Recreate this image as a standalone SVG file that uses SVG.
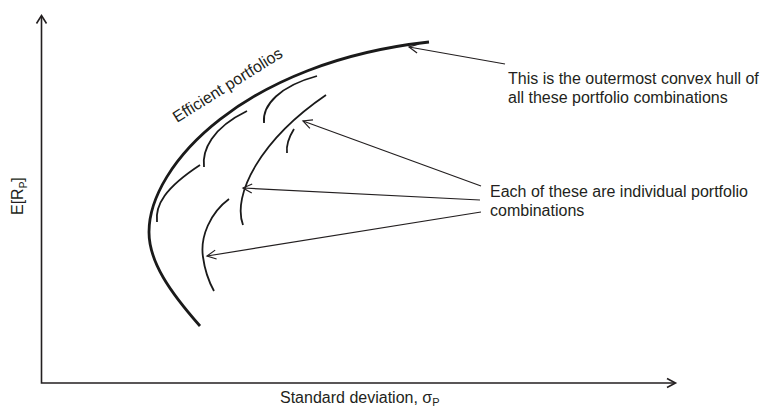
<svg xmlns="http://www.w3.org/2000/svg" width="761" height="406" viewBox="0 0 761 406">
<style>
  text { font-family: "Liberation Sans", Arial, sans-serif; font-size: 16px; fill: #231f20; }
  .axis { fill: none; stroke: #231f20; stroke-width: 1.6; }
  .hull { fill: none; stroke: #1a1a1a; stroke-width: 2.8; stroke-linecap: butt; }
  .combo { fill: none; stroke: #1a1a1a; stroke-width: 1.8; }
  .conn { fill: none; stroke: #231f20; stroke-width: 1.2; marker-end: url(#open); }
</style>
<defs>
  <marker id="open" markerUnits="userSpaceOnUse" markerWidth="14" markerHeight="14" refX="11" refY="6" orient="auto">
    <path d="M2,1.5 L11,6 L2,10.5" fill="none" stroke="#231f20" stroke-width="1.2"/>
  </marker>
</defs>
<rect width="761" height="406" fill="#ffffff"/>
<g id="axes">
  <path class="axis" d="M41.5,16 L41.5,383 L675,383"/>
  <path class="axis" d="M36.5,23.5 L41.5,15.5 L46.5,23.5"/>
  <path class="axis" d="M667,378.5 L675.5,383 L667,387.5"/>
</g>
<g id="efficient-frontier">
  <path class="hull" d="M200,326 C170,292 149,262 149,232 C149,165 245,62 429,42"/>
</g>
<g id="portfolio-combinations">
  <path class="combo" d="M157,222 C155,205 165,188 200,165"/>
  <path class="combo" d="M204,167 C202,150 212,128 247,111"/>
  <path class="combo" d="M264,123 C262,105 280,86 317,76"/>
  <path class="combo" d="M243,225 C232,195 260,140 326,95"/>
  <path class="combo" d="M294,129 C289,137 286,145 287,153"/>
  <path class="combo" d="M229,199 C210,213 200,237 203,257 C205,272 209,282 214,291"/>
</g>
<g id="connectors">
  <path class="conn" d="M505,64 L409,47"/>
  <path class="conn" d="M481,186 L303,121"/>
  <path class="conn" d="M480,200 L243,188"/>
  <path class="conn" d="M481,212 L207,256"/>
</g>
<g id="label-hull">
  <text x="508" y="84">This is the outermost convex hull of</text>
  <text x="508" y="103">all these portfolio combinations</text>
</g>
<g id="label-combinations">
  <text x="490" y="197">Each of these are individual portfolio</text>
  <text x="490" y="216">combinations</text>
</g>
<g id="label-efficient">
  <text transform="translate(177,123) rotate(-32)">Efficient portfolios</text>
</g>
<g id="axis-labels">
  <text x="280" y="403">Standard deviation, σ<tspan font-size="11" dy="3">P</tspan></text>
  <text transform="translate(23,215) rotate(-90)">E[R<tspan font-size="10" dy="4">P</tspan><tspan dy="-4">]</tspan></text>
</g>
</svg>
